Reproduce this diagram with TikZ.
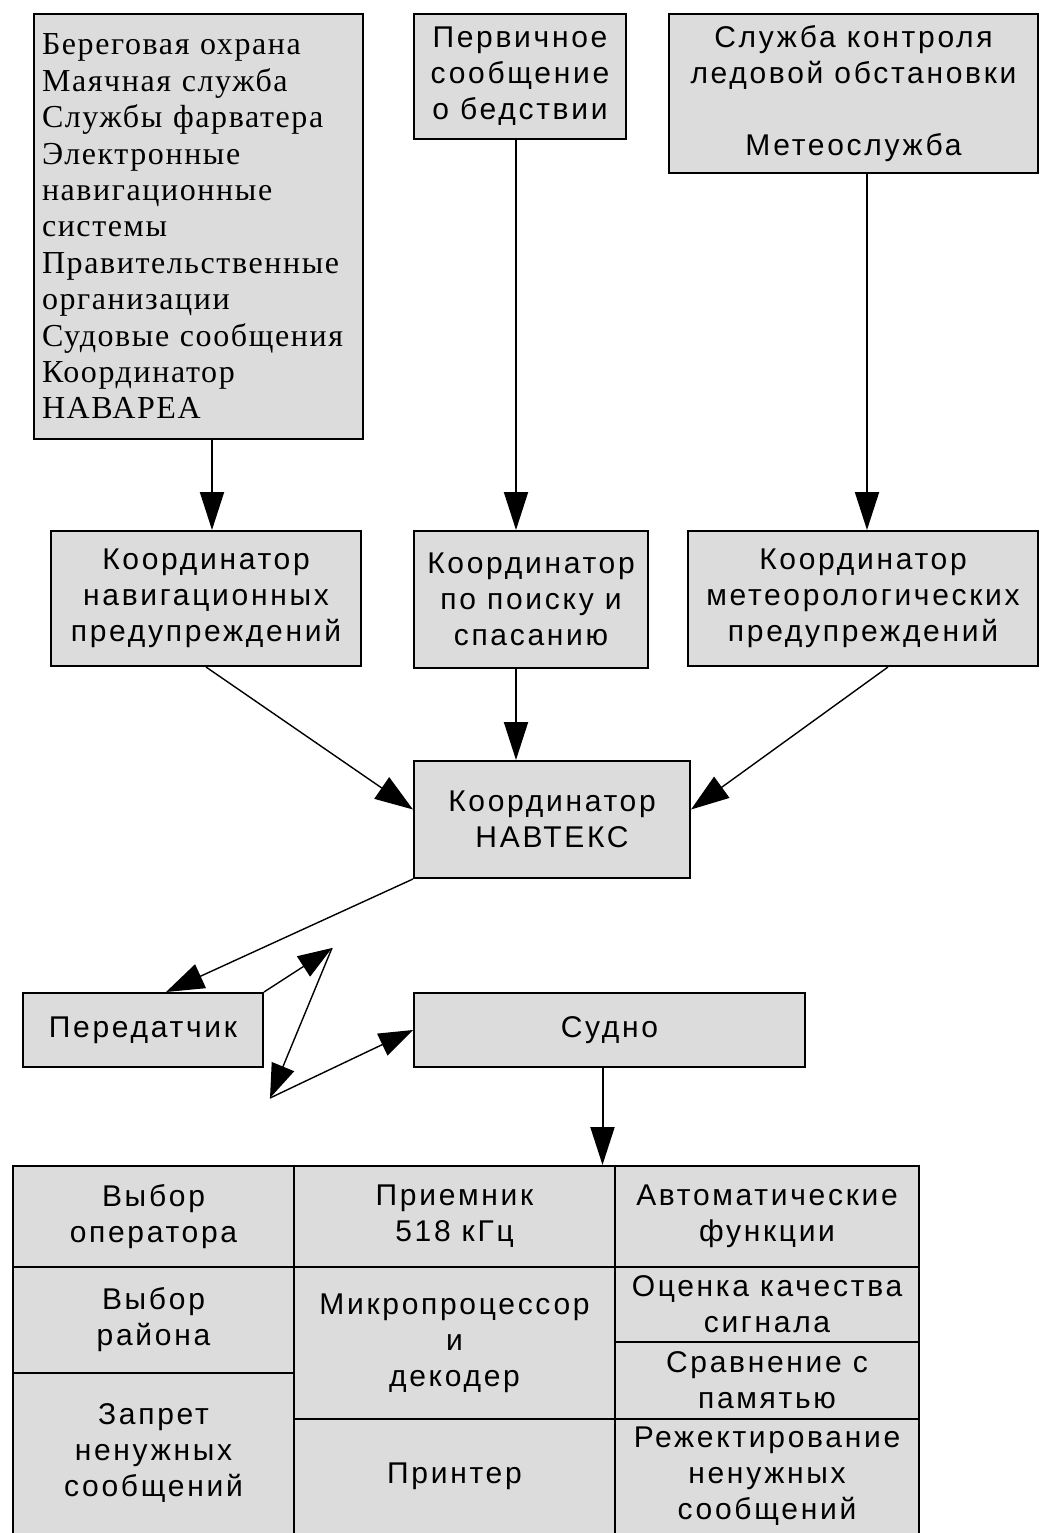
\documentclass[tikz,border=0pt]{standalone}
\usepackage{fontspec}
\setmainfont{Liberation Sans}[LetterSpace=9]
\newfontfamily\oldserif{Liberation Serif}[LetterSpace=5]
\usetikzlibrary{arrows.meta,calc}

\definecolor{boxgray}{HTML}{DCDCDC}
\newcommand\labelfont{\fontsize{30}{36}\selectfont}
\newcommand\listfont{\oldserif\fontsize{32}{36.4}\selectfont}

\tikzset{
  box/.style={draw=black, line width=2pt, fill=boxgray, inner sep=0pt,
    anchor=north west, align=center, font=\labelfont},
  cell/.style={box},
  arr/.style={line width=2pt, -{Triangle[length=38pt,width=24pt]}},
  diag/.style={line width=1.4pt, -{Triangle[length=38pt,width=26pt]}},
  wave/.style={line width=1.4pt, -{Triangle[length=34pt,width=24pt]}},
}

\begin{document}
\begin{tikzpicture}[x=1pt,y=-1pt]
\useasboundingbox (0,0) rectangle (1039,1533);

% sources
\node[box, minimum width=329pt, minimum height=425pt, align=left,
      text width=313pt, font=\listfont] (A) at (33,13)
  {\mbox{Береговая охрана}\\ \mbox{Маячная служба}\\ \mbox{Службы фарватера}\\
   \mbox{Электронные}\\ \mbox{навигационные}\\ \mbox{системы}\\
   \mbox{Правительственные}\\ \mbox{организации}\\ \mbox{Судовые сообщения}\\
   \mbox{Координатор}\\ \mbox{НАВАРЕА}};
\node[box, minimum width=212pt, minimum height=125pt] (B) at (413,13)
  {Первичное\\ сообщение\\ о бедствии};
\node[box, minimum width=369pt, minimum height=159pt] (C) at (668,13)
  {Служба контроля\\ ледовой обстановки\\ \strut\\ Метеослужба};

% coordinators
\node[box, minimum width=310pt, minimum height=135pt] (D) at (50,530)
  {Координатор\\ навигационных\\ предупреждений};
\node[box, minimum width=234pt, minimum height=137pt] (E) at (413,530)
  {Координатор\\ по поиску и\\ спасанию};
\node[box, minimum width=350pt, minimum height=135pt] (F) at (687,530)
  {Координатор\\ метеорологических\\ предупреждений};
\node[box, minimum width=276pt, minimum height=117pt] (G) at (413,760)
  {Координатор\\ НАВТЕКС};

% transmitter and ship
\node[box, minimum width=240pt, minimum height=74pt] (H) at (22,992) {Передатчик};
\node[box, minimum width=391pt, minimum height=74pt] (I) at (413,992) {Судно};

% receiver table
\node[cell, minimum width=281pt, minimum height=101pt] (T11) at (12,1165) {Выбор\\ оператора};
\node[cell, minimum width=281pt, minimum height=106pt] (T21) at (12,1266) {Выбор\\ района};
\node[cell, minimum width=281pt, minimum height=161pt] (T31) at (12,1372) {Запрет\\ ненужных\\ сообщений};
\node[cell, minimum width=321pt, minimum height=101pt] (T12) at (293,1165) {Приемник\\ 518 кГц};
\node[cell, minimum width=321pt, minimum height=152pt] (T22) at (293,1266) {Микропроцессор\\ и\\ декодер};
\node[cell, minimum width=321pt, minimum height=115pt] (T32) at (293,1418) {Принтер};
\node[cell, minimum width=304pt, minimum height=101pt] (T13) at (614,1165) {Автоматические\\ функции};
\node[cell, minimum width=304pt, minimum height=75pt] (T23) at (614,1266) {Оценка качества\\ сигнала};
\node[cell, minimum width=304pt, minimum height=77pt] (T33) at (614,1341) {Сравнение с\\ памятью};
\node[cell, minimum width=304pt, minimum height=115pt] (T43) at (614,1418) {Режектирование\\ ненужных\\ сообщений};

% radio path corners
\coordinate (z1) at (332,948);
\coordinate (z2) at (270,1098);

% connectors
\draw[arr] ([xshift=6pt]D.north |- A.south) -- ([xshift=6pt]D.north);
\draw[arr] ([xshift=-4pt]B.south) -- ([xshift=-4pt]B.south |- E.north);
\draw[arr] ([xshift=4pt]F.north |- C.south) -- ([xshift=4pt]F.north);
\draw[diag] (D.south) -- ([yshift=10pt]G.west);
\draw[arr] ([xshift=-15pt]E.south) -- ([xshift=-15pt]E.south |- G.north);
\draw[diag] ([xshift=25pt]F.south) -- ([yshift=10pt]G.east);
\draw[diag] (G.south west) -- ([xshift=23pt]H.north);
\draw[wave] (H.north east) -- (z1);
\draw[wave] (z1) -- (z2);
\draw[wave] (z2) -- (I.west);
\draw[arr] ([xshift=-7pt]I.south) -- ([xshift=-7pt]I.south |- T12.north);
\end{tikzpicture}
\end{document}
